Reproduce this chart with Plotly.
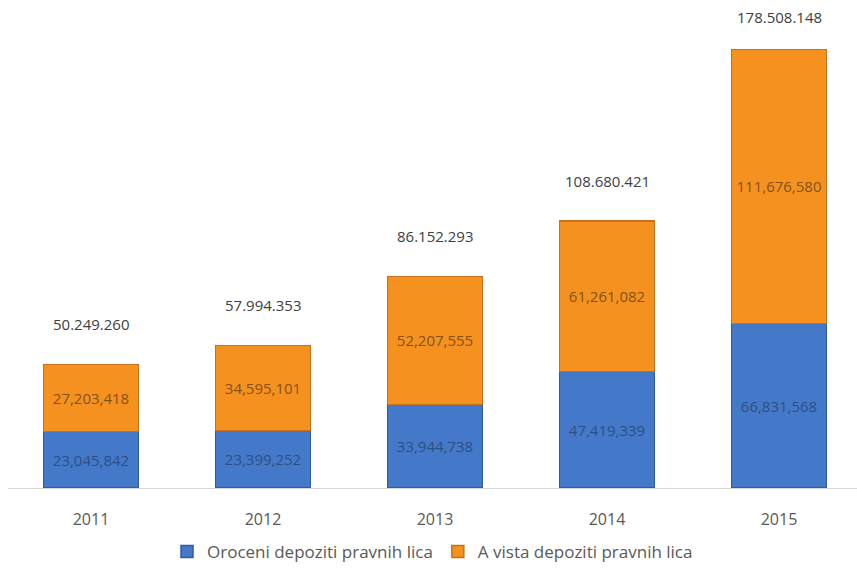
import plotly.graph_objects as go

years = ["2011", "2012", "2013", "2014", "2015"]
oroceni = [23045842, 23399252, 33944738, 47419339, 66831568]
a_vista = [27203418, 34595101, 52207555, 61261082, 111676580]
totals = [50249260, 57994353, 86152293, 108680421, 178508148]

series_names = ["Oroceni depoziti pravnih lica", "A vista depoziti pravnih lica"]

# vertical offset (px) of each total label above its column
total_shift = [28, 28, 28, 28, 20]

FONT = "'Open Sans', Lato, sans-serif"


def comma(v):
    return f"{v:,}"


def dotted(v):
    return f"{v:,}".replace(",", ".")


fig = go.Figure()

fig.add_trace(go.Bar(
    x=years, y=oroceni, name=series_names[0],
    marker=dict(color="#4479C9", line=dict(color="#2F5C9E", width=1.5)),
    text=[comma(v) for v in oroceni], textposition="inside",
    insidetextanchor="middle",
    textfont=dict(family=FONT, size=15, color="#2E4F85"),
    width=0.552,
))
fig.add_trace(go.Bar(
    x=years, y=a_vista, name=series_names[1],
    marker=dict(color="#F5921F", line=dict(color="#C8701A", width=1.5)),
    text=[comma(v) for v in a_vista], textposition="inside",
    insidetextanchor="middle",
    textfont=dict(family=FONT, size=15, color="#86501A"),
    width=0.552,
))

# stacked totals above each column (category index as x position)
for i, (t, s) in enumerate(zip(totals, total_shift)):
    fig.add_annotation(
        x=i, y=t, xref="x", yref="y", text=dotted(t), showarrow=False,
        yanchor="bottom", yshift=s,
        font=dict(family=FONT, size=15, color="#404040"),
    )

fig.update_layout(
    barmode="stack",
    width=857, height=570,
    margin=dict(l=8, r=0, t=21, b=81),
    plot_bgcolor="white", paper_bgcolor="white",
    showlegend=True,
    legend=dict(
        orientation="h", x=0.5, xanchor="center", y=-0.137, yanchor="middle",
        font=dict(family=FONT, size=17, color="#595959"),
        traceorder="normal",
    ),
    xaxis=dict(
        type="category",
        range=[-0.4826, 4.4535], showgrid=False,
        showline=True, linecolor="#D9D9D9", linewidth=1,
        ticks="outside", ticklen=17, tickcolor="rgba(0,0,0,0)",
        tickfont=dict(family=FONT, size=16, color="#595959"),
    ),
    yaxis=dict(range=[0, 190000000], visible=False),
)
fig.update_traces(cliponaxis=False, textangle=0)

fig.write_html("out.html")
